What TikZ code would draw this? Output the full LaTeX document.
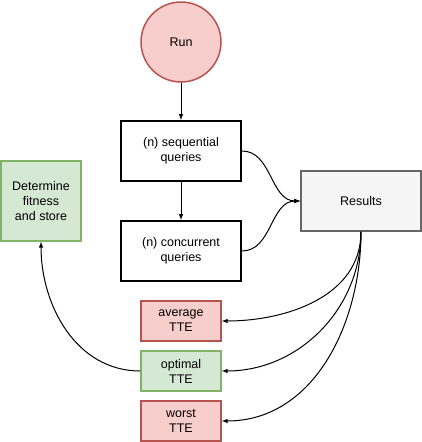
\documentclass[tikz,border=0pt]{standalone}
\usepackage{fontspec}
\setmainfont{Liberation Sans}
\usetikzlibrary{arrows,positioning}
\definecolor{redfill}{HTML}{F8CECC}
\definecolor{reddraw}{HTML}{B85450}
\definecolor{greenfill}{HTML}{D5E8D4}
\definecolor{greendraw}{HTML}{82B366}
\definecolor{greyfill}{HTML}{F5F5F5}
\definecolor{greydraw}{HTML}{666666}
\begin{document}
\begin{tikzpicture}[x=1pt, y=-1pt, >=latex, line width=1pt, main node/.style={rectangle,draw,align=center,inner sep=0pt,font=\fontsize{12.5}{15}\selectfont},%
run node/.style={main node,circle,minimum size=80pt,line width=1.5pt,draw=reddraw,fill=redfill},%
query node/.style={main node,minimum width=120pt,minimum height=60pt,line width=2pt,draw=black,fill=white},%
result node/.style={main node,minimum width=120pt,minimum height=60pt,line width=1.5pt,draw=greydraw,fill=greyfill},%
fit node/.style={main node,minimum width=80pt,minimum height=80pt,line width=1.5pt,draw=greendraw,fill=greenfill},%
bad node/.style={main node,minimum width=80pt,minimum height=40pt,line width=1.5pt,draw=reddraw,fill=redfill},%
good node/.style={main node,minimum width=80pt,minimum height=40pt,line width=1.5pt,draw=greendraw,fill=greenfill}]
\useasboundingbox (0,0) rectangle (422,442);
\begin{scope}
\node[run node] (run) at (181,42) {Run};
\node[query node] (seq) at (181,151) {(n) sequential\\queries};
\node[query node] (conc) at (181,251) {(n) concurrent\\queries};
\node[result node] (res) at (361,201) {Results};
\node[fit node] (fit) at (41,201) {Determine\\fitness\\and store};
\node[bad node] (avg) at (181,321) {average\\TTE};
\node[good node] (opt) at (181,371) {optimal\\TTE};
\node[bad node] (worst) at (181,421) {worst\\TTE};
\end{scope}
\begin{scope}[every edge/.style={draw=black,line width=1pt,->}]
\draw  (run) edge (seq);
\draw  (seq) edge (conc);
\draw  (seq.east) edge[out=0,in=180] (res.west);
\draw  (conc.east) edge[out=0,in=180] (res.west);
\draw  (res.south) edge[out=-90,in=0] (avg.east);
\draw  (res.south) edge[out=-90,in=0] (opt.east);
\draw  (res.south) edge[out=-90,in=0] (worst.east);
\draw  (opt.west) edge[out=180,in=-90] (fit.south);
\end{scope}
\end{tikzpicture}
\end{document}
